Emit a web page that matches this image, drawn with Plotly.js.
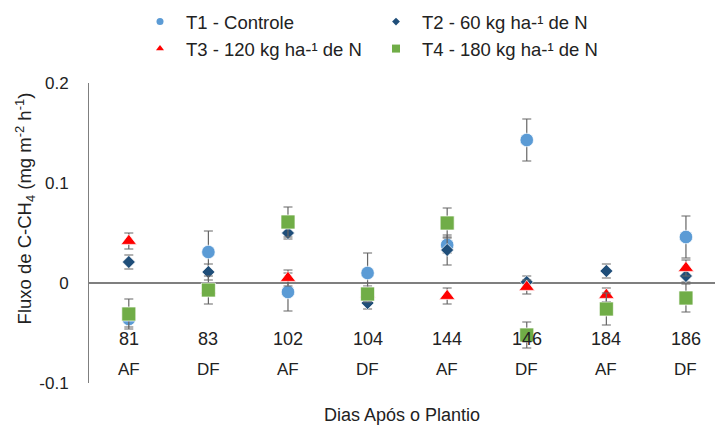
<!DOCTYPE html>
<html>
<head>
<meta charset="utf-8">
<script src="https://cdn.plot.ly/plotly-3.0.1.min.js"></script>
<style>html,body{margin:0;padding:0;background:#fff;}#chart{width:715px;height:434px;}</style>
</head>
<body>
<div id="chart"></div>
<script>
// Categories (days after planting) and phase labels
var days  = ['81', '83', '102', '104', '144', '146', '184', '186'];
var phase = ['AF', 'DF', 'AF', 'DF', 'AF', 'DF', 'AF', 'DF'];

// Series values (mg m-2 h-1) and error bars
var t1    = [-0.036, 0.031, -0.009, 0.010, 0.038, 0.143, -0.025, 0.046];
var t1err = [0.008, 0.021, 0.019, 0.020, 0.008, 0.021, 0.006, 0.021];
var t2    = [0.021, 0.011, 0.050, -0.020, 0.033, 0.001, 0.012, 0.007];
var t2err = [0.007, 0.008, 0.006, 0.006, 0.015, 0.006, 0.007, 0.006];
var t3    = [0.042, -0.007, 0.005, -0.011, -0.013, -0.004, -0.012, 0.015];
var t3err = [0.008, 0.004, 0.008, 0.004, 0.008, 0.007, 0.007, 0.008];
var t4    = [-0.031, -0.007, 0.061, -0.011, 0.060, -0.052, -0.026, -0.015];
var t4err = [0.015, 0.014, 0.015, 0.008, 0.015, 0.013, 0.016, 0.014];

var names = ['T1 - Controle', 'T2 - 60 kg ha-\u00b9 de N', 'T3 - 120 kg ha-\u00b9 de N', 'T4 - 180 kg ha-\u00b9 de N'];
var yTitle = 'Fluxo de C-CH<sub>4</sub> (mg m<sup>-2</sup> h<sup>-1</sup>)';
var xTitle = 'Dias Após o Plantio';

var FONT = 'Liberation Sans, Arial, sans-serif';
var TXT = '#222222';
var GRAY = '#7f7f7f';
var ERR = '#666666';

function series(y, err, name, symbol, color, size) {
  return {
    type: 'scatter', mode: 'markers', x: days, y: y, name: name,
    showlegend: false,
    marker: {symbol: symbol, color: color, size: size, line: {color: '#ffffff', width: 0.7}},
    error_y: {type: 'data', array: err, visible: true, color: ERR, thickness: 1.2, width: 4.5},
    cliponaxis: false
  };
}
function legendItem(name, symbol, color, size, legend) {
  return {
    type: 'scatter', mode: 'markers', x: [days[0]], y: [null], name: name,
    legend: legend, showlegend: true, hoverinfo: 'skip',
    marker: {symbol: symbol, color: color, size: size}
  };
}

var data = [
  series(t1, t1err, names[0], 'circle', '#5B9BD5', 13.5),
  series(t2, t2err, names[1], 'diamond', '#1F4E79', 10),
  series(t3, t3err, names[2], 'triangle-up', '#FF0000', 13.5),
  series(t4, t4err, names[3], 'square', '#70AD47', 14),
  legendItem(names[0], 'circle', '#5B9BD5', 7, 'legend'),
  legendItem(names[2], 'triangle-up', '#FF0000', 7, 'legend'),
  legendItem(names[1], 'diamond', '#1F4E79', 6, 'legend2'),
  legendItem(names[3], 'square', '#70AD47', 8, 'legend2')
];

var annotations = [];
days.forEach(function (d, i) {
  annotations.push({xref: 'x', yref: 'y', x: i, y: -0.0558, text: d, showarrow: false,
    font: {family: FONT, size: 18, color: TXT}});
  annotations.push({xref: 'x', yref: 'y', x: i, y: -0.0862, text: phase[i], showarrow: false,
    font: {family: FONT, size: 17, color: TXT}});
});
// y-axis title (drawn as a rotated annotation left of the tick labels)
annotations.push({xref: 'paper', yref: 'paper', x: -64 / 626, y: 0.582, xanchor: 'center', yanchor: 'middle',
  textangle: -90, text: yTitle, showarrow: false, font: {family: FONT, size: 18.5, color: TXT}});

var legendCommon = {
  xref: 'container', yref: 'container', xanchor: 'left', yanchor: 'top',
  orientation: 'v', bgcolor: 'rgba(0,0,0,0)', borderwidth: 0,
  itemwidth: 42, tracegroupgap: 0,
  font: {family: FONT, size: 18.5, color: TXT}
};

var layout = {
  width: 715, height: 434,
  margin: {l: 89, r: 0, t: 83, b: 51, autoexpand: false},
  paper_bgcolor: '#ffffff', plot_bgcolor: '#ffffff',
  font: {family: FONT, size: 18, color: TXT},
  legend: Object.assign({}, legendCommon, {x: 134 / 715, y: 1 - 3 / 434}),
  legend2: Object.assign({}, legendCommon, {x: 370 / 715, y: 1 - 3 / 434}),
  xaxis: {
    type: 'category', categoryorder: 'array', categoryarray: days,
    range: [-0.5, 7.365], autorange: false, showgrid: false, showline: false, zeroline: false,
    showticklabels: false, ticks: '',
    title: {text: xTitle, standoff: 25, font: {family: FONT, size: 18, color: TXT}}
  },
  yaxis: {
    range: [-0.1, 0.2], autorange: false, tickvals: [-0.1, 0, 0.1, 0.2], ticktext: ['-0.1', '0', '0.1', '0.2'],
    showgrid: false, showline: true, linecolor: GRAY, linewidth: 1,
    zeroline: true, zerolinecolor: GRAY, zerolinewidth: 1.2,
    ticks: 'outside', ticklen: 16, tickcolor: 'rgba(0,0,0,0)',
    tickfont: {family: FONT, size: 17, color: TXT}
  },
  annotations: annotations,
  showlegend: true
};

Plotly.newPlot('chart', data, layout, {displayModeBar: false, staticPlot: true});
</script>
</body>
</html>
